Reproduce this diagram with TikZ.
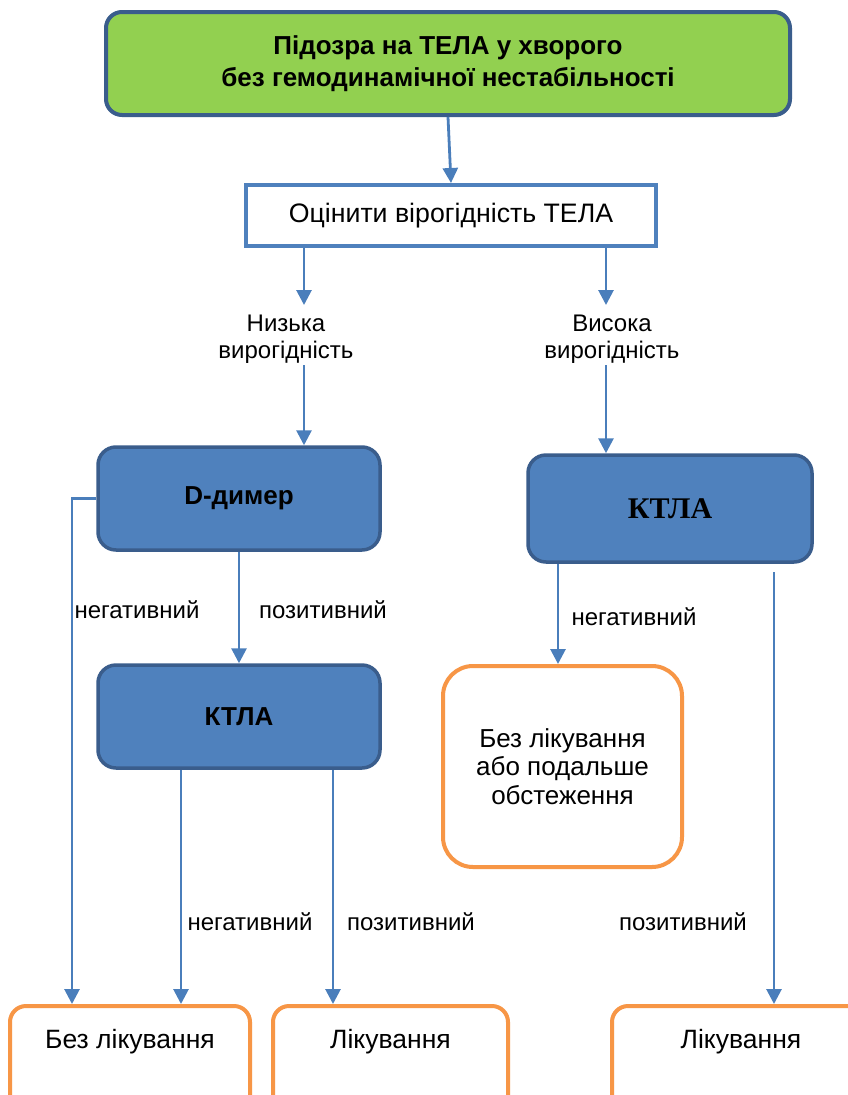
\documentclass[tikz,border=0pt]{standalone}
\usepackage{fontspec}
\setmainfont{Liberation Sans}
\newfontfamily\serifbold{Liberation Serif}
\usetikzlibrary{arrows.meta}
\definecolor{conn}{HTML}{4A7EBB}
\definecolor{boxfill}{HTML}{4F81BD}
\definecolor{boxline}{HTML}{3A5D8C}
\definecolor{greenfill}{HTML}{92D050}
\definecolor{orangeline}{HTML}{F79646}
\tikzset{
  arr/.style={draw=conn, line width=2.8pt, -{Triangle[length=15pt,width=15pt]}},
  greenbox/.style={draw=boxline, fill=greenfill, line width=4pt, rounded corners=16pt, align=center, font=\fontsize{26}{32}\selectfont\bfseries},
  assessbox/.style={draw=boxfill, fill=white, line width=4pt, font=\fontsize{26.7}{30}\selectfont},
  bluebox/.style={draw=boxline, fill=boxfill, line width=3.5pt, rounded corners=18pt, font=\fontsize{26}{28}\selectfont\bfseries},
  orangebox/.style={draw=orangeline, fill=white, line width=4pt, rounded corners=30pt, align=center, font=\fontsize{26}{28.5}\selectfont},
  endbox/.style={draw=orangeline, fill=white, line width=4pt, rounded corners=16pt, inner xsep=0pt, inner ysep=0pt, text height=42pt, text depth=90pt, font=\fontsize{26.5}{30}\selectfont, anchor=north},
  lbl/.style={align=center, font=\fontsize{24}{27}\selectfont, inner sep=0pt},
}
\begin{document}
\begin{tikzpicture}[x=1pt,y=-1pt]
\useasboundingbox (0,0) rectangle (848,1095);
\clip (0,0) rectangle (848,1095);
\fill[white] (0,0) rectangle (848,1095);
% boxes
\node[greenbox, minimum width=684pt, minimum height=103pt] (top) at (448,63.5) {Підозра на ТЕЛА у хворого\\без гемодинамічної нестабільності};
\node[assessbox, minimum width=410pt, minimum height=61pt] (assess) at (451,215.5) {Оцінити вірогідність ТЕЛА};
\node[lbl] (low) at (286,339) {Низька\\вирогідність};
\node[lbl] (high) at (612,339) {Висока\\вирогідність};
\node[bluebox, minimum width=282pt, minimum height=103pt] (dd) at (239,498.5) {D-димер};
\node[bluebox, minimum width=284pt, minimum height=107pt, font=\fontsize{30}{32}\selectfont\serifbold\bfseries] (ktlaR) at (670,508.5) {КТЛА};
\node[bluebox, minimum width=282pt, minimum height=103pt] (ktlaL) at (239,716.5) {КТЛА};
\node[orangebox, minimum width=239pt, minimum height=201pt] (further) at (562.5,766.5) {Без лікування\\або подальше\\обстеження};
\node[endbox, minimum width=240pt] (b1) at (130,1004) {Без лікування};
\node[endbox, minimum width=235pt] (b2) at (390.5,1004) {Лікування};
\node[endbox, minimum width=258pt] (b3) at (741,1004) {Лікування};
% labels
\node[lbl] (n1) at (137,610) {негативний};
\node[lbl] (p1) at (323,610) {позитивний};
\node[lbl] (n2) at (634,617) {негативний};
\node[lbl] (n3) at (250,922) {негативний};
\node[lbl] (p2) at (411,922) {позитивний};
\node[lbl] (p3) at (683,922) {позитивний};
% coordinates
\coordinate (lowtop) at (304,305);
\coordinate (lowbot) at (304,365);
\coordinate (hightop) at (606,305);
\coordinate (highbot) at (606,365);
\coordinate (ddcorner) at (72,498.5);
\coordinate (posstart) at (774,572);
% connectors
\draw[arr] (top.south) -- (assess.north);
\draw[arr] (assess.south -| lowtop) -- (lowtop);
\draw[arr] (assess.south -| hightop) -- (hightop);
\draw[arr] (lowbot) -- (dd.north -| lowbot);
\draw[arr] (highbot) -- (ktlaR.north -| highbot);
\draw[arr] (dd.west) -- (ddcorner) -- (b1.north -| ddcorner);
\draw[arr] (dd.south) -- (ktlaL.north);
\draw[arr] (ktlaL.south -| 181,0) -- (b1.north -| 181,0);
\draw[arr] (ktlaL.south -| 333,0) -- (b2.north -| 333,0);
\draw[arr] (ktlaR.south -| 558,0) -- (further.north -| 558,0);
\draw[arr] (posstart) -- (b3.north -| posstart);
\end{tikzpicture}
\end{document}
